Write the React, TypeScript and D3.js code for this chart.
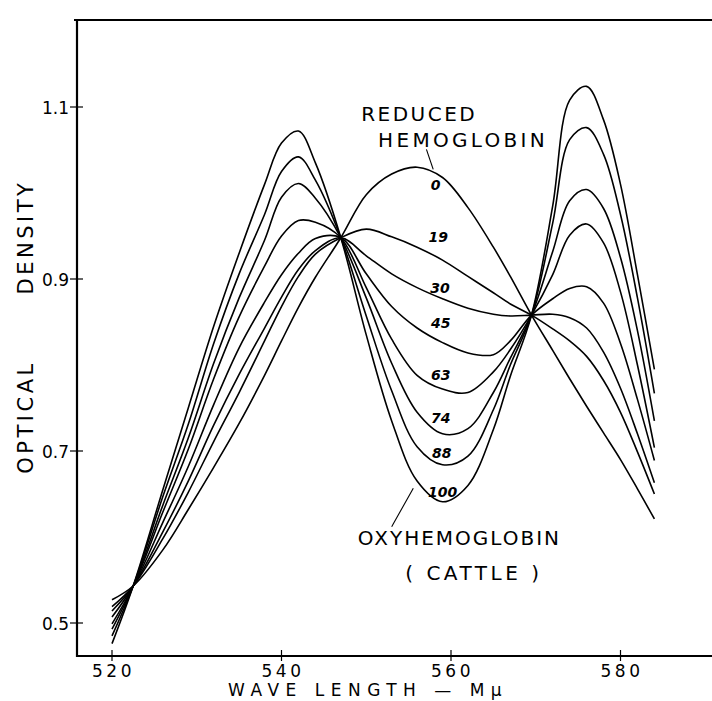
import React, { useEffect, useRef } from 'react';
import * as d3 from 'd3';

// wavelength grid (m-mu) and optical density of each mixture
const wavelengths = [520, 522.5, 526, 529, 532, 535, 538, 540, 542, 544, 547, 550, 553, 556, 559, 562, 565, 567, 569.5, 572, 574, 576, 578, 580, 582, 584];

const od0 = [0.527, 0.543, 0.585, 0.632, 0.681, 0.732, 0.788, 0.828, 0.867, 0.902, 0.948, 0.998, 1.022, 1.03, 1.018, 0.983, 0.937, 0.903, 0.858, 0.817, 0.784, 0.752, 0.721, 0.69, 0.656, 0.621];
const od19 = [0.519, 0.543, 0.598, 0.652, 0.711, 0.768, 0.828, 0.868, 0.903, 0.929, 0.948, 0.958, 0.949, 0.937, 0.922, 0.903, 0.884, 0.871, 0.858, 0.842, 0.828, 0.81, 0.782, 0.745, 0.699, 0.65];
const od30 = [0.514, 0.543, 0.606, 0.665, 0.73, 0.789, 0.843, 0.879, 0.911, 0.933, 0.948, 0.927, 0.906, 0.89, 0.877, 0.866, 0.859, 0.857, 0.858, 0.859, 0.855, 0.843, 0.815, 0.773, 0.72, 0.663];
const od45 = [0.507, 0.543, 0.617, 0.682, 0.754, 0.82, 0.873, 0.905, 0.93, 0.947, 0.948, 0.906, 0.868, 0.843, 0.826, 0.814, 0.812, 0.828, 0.858, 0.877, 0.889, 0.891, 0.872, 0.825, 0.76, 0.689];
const od63 = [0.499, 0.543, 0.629, 0.702, 0.784, 0.856, 0.915, 0.95, 0.968, 0.966, 0.948, 0.89, 0.83, 0.788, 0.772, 0.768, 0.792, 0.818, 0.858, 0.905, 0.951, 0.964, 0.942, 0.885, 0.8, 0.704];
const od74 = [0.493, 0.543, 0.637, 0.715, 0.802, 0.878, 0.945, 0.995, 1.011, 0.994, 0.948, 0.878, 0.802, 0.745, 0.72, 0.726, 0.768, 0.808, 0.858, 0.932, 0.991, 1.004, 0.982, 0.925, 0.84, 0.735];
const od88 = [0.485, 0.543, 0.647, 0.731, 0.825, 0.906, 0.975, 1.025, 1.042, 1.015, 0.948, 0.857, 0.77, 0.705, 0.684, 0.694, 0.748, 0.8, 0.858, 0.965, 1.062, 1.076, 1.045, 0.975, 0.878, 0.767];
const od100 = [0.476, 0.543, 0.655, 0.75, 0.845, 0.93, 1.01, 1.058, 1.072, 1.035, 0.948, 0.835, 0.735, 0.665, 0.641, 0.66, 0.725, 0.787, 0.858, 0.985, 1.108, 1.124, 1.085, 1.01, 0.905, 0.795];

const curveLabels = ['0', '19', '30', '45', '63', '74', '88', '100'];
const curveValues = [od0, od19, od30, od45, od63, od74, od88, od100];
// where each percentage label sits (wavelength, density)
const labelWave = [558.2, 558.5, 558.7, 558.8, 558.8, 558.8, 558.9, 559.0];
const labelOd = [1.009, 0.949, 0.89, 0.849, 0.788, 0.738, 0.698, 0.652];

const xTicks = [520, 540, 560, 580];
const yTicks = [0.5, 0.7, 0.9, 1.1];
const yTickLabels = ['0.5', '0.7', '0.9', '1.1'];

const font = "'DejaVu Sans', Verdana, sans-serif";

export default function App() {
  const ref = useRef<SVGSVGElement>(null);

  useEffect(() => {
    const svg = d3.select(ref.current);
    svg.selectAll('*').remove();

    const x = d3.scaleLinear().domain([520, 580]).range([112, 620.5]);
    const y = d3.scaleLinear().domain([0.5, 1.1]).range([623, 107]);

    // frame: top, left, bottom
    const frame = svg.append('g').attr('stroke', '#000').attr('stroke-width', 2.2);
    frame.append('line').attr('x1', 74).attr('x2', 712).attr('y1', 20).attr('y2', 20);
    frame.append('line').attr('x1', 77).attr('x2', 77).attr('y1', 19).attr('y2', 657);
    frame.append('line').attr('x1', 76).attr('x2', 712).attr('y1', 656).attr('y2', 656);

    // y ticks
    const yg = svg.append('g');
    yg.selectAll('line')
      .data(yTicks)
      .enter()
      .append('line')
      .attr('x1', 70)
      .attr('x2', 83)
      .attr('y1', d => y(d))
      .attr('y2', d => y(d))
      .attr('stroke', '#000')
      .attr('stroke-width', 1.2);
    yg.selectAll('text')
      .data(yTicks)
      .enter()
      .append('text')
      .attr('x', 69)
      .attr('y', d => y(d) + 6.5)
      .attr('text-anchor', 'end')
      .attr('font-family', font)
      .attr('font-size', 17)
      .text((d, i) => yTickLabels[i]);

    // x ticks
    const xg = svg.append('g');
    xg.selectAll('line')
      .data(xTicks)
      .enter()
      .append('line')
      .attr('x1', d => x(d))
      .attr('x2', d => x(d))
      .attr('y1', 650)
      .attr('y2', 661)
      .attr('stroke', '#000')
      .attr('stroke-width', 1.2);
    xg.selectAll('text')
      .data(xTicks)
      .enter()
      .append('text')
      .attr('x', d => x(d) + 1.5)
      .attr('y', 677)
      .attr('text-anchor', 'middle')
      .attr('font-family', font)
      .attr('font-size', 17)
      .attr('letter-spacing', 3.5)
      .text(d => d);

    // axis titles
    svg.append('text')
      .attr('x', 228)
      .attr('y', 696)
      .attr('font-family', font)
      .attr('font-size', 17)
      .attr('letter-spacing', 6.5)
      .text('WAVE LENGTH — Mμ');

    const yTitle = (txt: string, cy: number) =>
      svg.append('text')
        .attr('transform', `translate(33, ${cy}) rotate(-90)`)
        .attr('text-anchor', 'middle')
        .attr('font-family', font)
        .attr('font-size', 21)
        .attr('letter-spacing', 3.5)
        .text(txt);
    yTitle('DENSITY', 237);
    yTitle('OPTICAL', 417);

    // spectra
    const line = d3
      .line<number>()
      .x((d, i) => x(wavelengths[i]))
      .y(d => y(d))
      .curve(d3.curveCatmullRom.alpha(0.5));

    svg.append('g')
      .selectAll('path')
      .data(curveValues)
      .enter()
      .append('path')
      .attr('d', d => line(d))
      .attr('fill', 'none')
      .attr('stroke', '#000')
      .attr('stroke-width', 1.6)
      .attr('stroke-linejoin', 'round');

    // percentage labels
    svg.append('g')
      .selectAll('text')
      .data(curveLabels)
      .enter()
      .append('text')
      .attr('x', (d, i) => x(labelWave[i]))
      .attr('y', (d, i) => y(labelOd[i]))
      .attr('dy', '0.36em')
      .attr('text-anchor', 'middle')
      .attr('font-family', font)
      .attr('font-size', 14)
      .attr('font-style', 'italic')
      .attr('font-weight', 600)
      .text(d => d);

    // annotations
    const note = (txt: string, w: number, od: number, ls: number) =>
      svg.append('text')
        .attr('x', x(w))
        .attr('y', y(od))
        .attr('font-family', font)
        .attr('font-size', 20)
        .attr('letter-spacing', ls)
        .text(txt);
    note('REDUCED', 549.4, 1.084, 2.5);
    note('HEMOGLOBIN', 551.4, 1.0535, 3.3);
    note('OXYHEMOGLOBIN', 549.0, 0.5907, 2);
    note('( CATTLE )', 554.6, 0.55, 3.5);

    const leader = (w1: number, o1: number, w2: number, o2: number) =>
      svg.append('line')
        .attr('x1', x(w1))
        .attr('y1', y(o1))
        .attr('x2', x(w2))
        .attr('y2', y(o2))
        .attr('stroke', '#000')
        .attr('stroke-width', 1.1);
    leader(557.1, 1.0508, 557.9, 1.0275);
    leader(555.55, 0.6566, 553.0, 0.612);
  }, []);

  return (
    <svg
      ref={ref}
      width={712}
      height={701}
      style={{ position: 'absolute', left: 0, top: 0, background: '#fff' }}
    />
  );
}
